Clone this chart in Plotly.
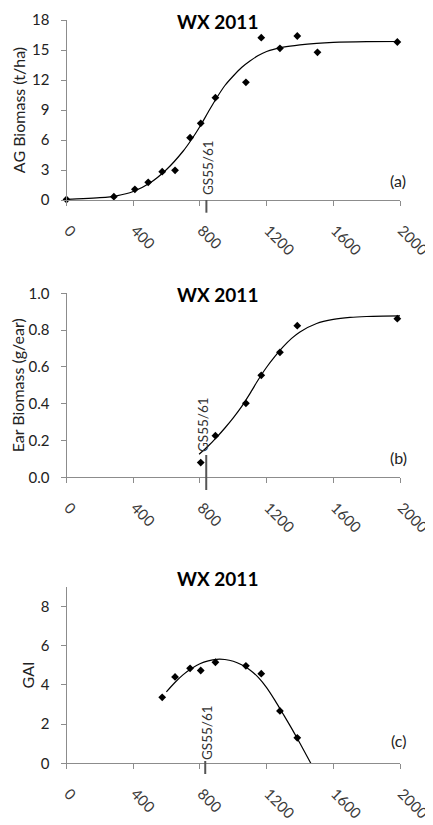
import plotly.graph_objects as go

# The page body has an 8px default margin, so the figure is sized to fill the rest of the window.
OFF = 8
W, H = 433 - OFF, 825 - OFF
FONT = "Lato, Carlito, Calibri, sans-serif"
TXT = "#222222"
AXC = "#8c8c8c"

# ---------------- data ----------------
x_ticks = [0, 400, 800, 1200, 1600, 2000]

# (a) above-ground biomass
a_x = [0, 284, 410, 490, 574, 651, 741, 805, 893, 1076, 1168, 1280, 1384, 1505, 1984]
a_y = [0.05, 0.33, 1.07, 1.77, 2.83, 2.97, 6.23, 7.67, 10.23, 11.77, 16.23, 15.17, 16.40, 14.77, 15.80]
a_fit_x = [0, 100, 200, 300, 400, 500, 600, 700, 750, 800, 850, 900, 950, 1000, 1050,
           1100, 1150, 1200, 1300, 1400, 1500, 1600, 1800, 2000]
a_fit_y = [0.07, 0.13, 0.23, 0.42, 0.85, 1.70, 3.05, 4.90, 6.05, 7.35, 8.80, 10.20, 11.45,
           12.40, 13.25, 13.90, 14.45, 14.85, 15.28, 15.52, 15.67, 15.76, 15.83, 15.85]

# (b) ear biomass
b_x = [805, 893, 1076, 1168, 1280, 1384, 1984]
b_y = [0.08, 0.226, 0.402, 0.554, 0.679, 0.824, 0.862]
b_fit_x = [795, 850, 900, 950, 1000, 1050, 1100, 1150, 1200, 1250, 1300, 1350, 1400,
           1500, 1600, 1700, 1800, 1900, 2000]
b_fit_y = [0.125, 0.170, 0.217, 0.268, 0.323, 0.384, 0.455, 0.530, 0.598, 0.657, 0.710,
           0.755, 0.790, 0.836, 0.858, 0.869, 0.874, 0.876, 0.877]

# (c) GAI
c_x = [574, 651, 741, 805, 893, 1076, 1168, 1280, 1384]
c_y = [3.36, 4.40, 4.84, 4.73, 5.15, 4.97, 4.57, 2.67, 1.30]
c_fit_x = [599, 650, 700, 750, 800, 850, 900, 950, 1000, 1050, 1100, 1150, 1200, 1250,
           1300, 1350, 1400, 1465]
c_fit_y = [3.64, 4.12, 4.52, 4.83, 5.07, 5.22, 5.30, 5.29, 5.20, 5.02, 4.76, 4.38, 3.86,
           3.21, 2.50, 1.78, 1.02, 0.0]

gs_x = [839, 838, 832]          # GS55/61 thermal time in each panel
titles = ["WX 2011", "WX 2011", "WX 2011"]
y_titles = ["AG Biomass (t/ha)", "Ear Biomass (g/ear)", "GAI"]
panel_tags = ["(a)", "(b)", "(c)"]

# ---------------- layout geometry (window pixels) ----------------
X0, X1 = 66.5, 400.0
panels = [
    dict(top=20.0, bot=200.0, yr=[0, 18], tv=[0, 3, 6, 9, 12, 15, 18], fmt="d",
         title_top=8, tag_y=180, gs_text_y=168, gs_line=(200, 212.7), gs_text_x=208),
    dict(top=293.3, bot=477.3, yr=[0, 1], tv=[0, 0.2, 0.4, 0.6, 0.8, 1.0], fmt=".1f",
         title_top=281, tag_y=457, gs_text_y=425, gs_line=(455, 490), gs_text_x=203),
    dict(top=586.7, bot=763.3, yr=[0, 9], tv=[0, 2, 4, 6, 8], fmt="d",
         title_top=565, tag_y=740, gs_text_y=733, gs_line=(761, 774), gs_text_x=207),
]


def px(x):
    return (x - OFF) / W


def py(y):
    return 1 - (y - OFF) / H


fig = go.Figure()
annotations = []
shapes = []
series = [(a_x, a_y, a_fit_x, a_fit_y), (b_x, b_y, b_fit_x, b_fit_y),
          (c_x, c_y, c_fit_x, c_fit_y)]

for i, (p, (dx, dy, fx, fy)) in enumerate(zip(panels, series)):
    n = "" if i == 0 else str(i + 1)
    xa, ya = "x" + n, "y" + n
    fig.add_trace(go.Scatter(x=fx, y=fy, mode="lines", xaxis=xa, yaxis=ya,
                             line=dict(color="black", width=1.2, shape="spline", smoothing=0.8),
                             hoverinfo="skip", showlegend=False, cliponaxis=False))
    fig.add_trace(go.Scatter(x=dx, y=dy, mode="markers", xaxis=xa, yaxis=ya,
                             marker=dict(symbol="diamond", size=6, color="black"),
                             showlegend=False, cliponaxis=False))
    xdom = [px(X0), px(X1)]
    ydom = [py(p["bot"]), py(p["top"])]
    fig.update_layout(**{
        "xaxis" + n: dict(domain=xdom, anchor=ya, range=[0, 2000], tickvals=x_ticks,
                          ticks="outside", ticklen=5, tickcolor=AXC, showline=True,
                          linecolor=AXC, linewidth=1, showgrid=False, zeroline=False,
                          tickangle=45, automargin=False, ticklabelshift=2,
                          ticklabelstandoff=10, ticklabeloverflow="allow",
                          tickfont=dict(family=FONT, size=15, color="#3a3a3a")),
        "yaxis" + n: dict(domain=ydom, anchor=xa, range=p["yr"], tickvals=p["tv"],
                          tickformat=p["fmt"], ticks="outside", ticklen=5, tickcolor=AXC,
                          showline=True, linecolor=AXC, linewidth=1, showgrid=False,
                          zeroline=False, ticklabelstandoff=8, automargin=False,
                          ticklabeloverflow="allow",
                          tickfont=dict(family=FONT, size=15, color=TXT),
                          title=dict(text=y_titles[i], standoff=2,
                                     font=dict(family=FONT, size=16, color=TXT))),
    })
    # title
    annotations.append(dict(text="<b>%s</b>" % titles[i], x=px(217), y=py(p["title_top"]),
                            xref="paper", yref="paper", showarrow=False,
                            xanchor="center", yanchor="top",
                            font=dict(family=FONT, size=19, color="black")))
    # panel tag
    annotations.append(dict(text=panel_tags[i], x=px(398), y=py(p["tag_y"]),
                            xref="paper", yref="paper", showarrow=False,
                            xanchor="center", yanchor="middle",
                            font=dict(family=FONT, size=16, color=TXT)))
    # GS55/61 marker
    gx = px(X0 + (gs_x[i] / 2000.0) * (X1 - X0))
    annotations.append(dict(text="GS55/61", x=px(p["gs_text_x"]), y=py(p["gs_text_y"]),
                            xref="paper", yref="paper", showarrow=False, textangle=-90,
                            xanchor="center", yanchor="middle",
                            font=dict(family=FONT, size=13.5, color="#333333")))
    shapes.append(dict(type="line", xref="paper", yref="paper", x0=gx, x1=gx,
                       y0=py(p["gs_line"][0]), y1=py(p["gs_line"][1]),
                       line=dict(color="#555555", width=2)))

fig.update_layout(width=W, height=H, margin=dict(l=0, r=0, t=0, b=0),
                  paper_bgcolor="white", plot_bgcolor="white",
                  annotations=annotations, shapes=shapes, showlegend=False,
                  font=dict(family=FONT, color=TXT))
fig.write_html("out.html")
